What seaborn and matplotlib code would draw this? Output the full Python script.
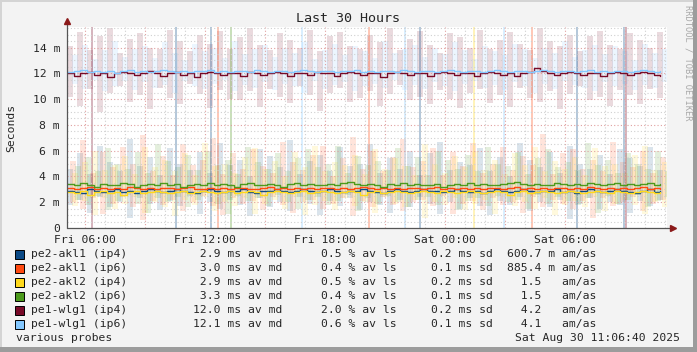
import numpy as np
import pandas as pd
import matplotlib
matplotlib.use("Agg")
import matplotlib.pyplot as plt
import seaborn as sns
from matplotlib.patches import Rectangle

# targets and their legend stats
names = ["pe2-akl1 (ip4)", "pe2-akl1 (ip6)", "pe2-akl2 (ip4)",
         "pe2-akl2 (ip6)", "pe1-wlg1 (ip4)", "pe1-wlg1 (ip6)"]
colors = ["#0b4a86", "#ff4a12", "#ffd91c", "#4c9a1c", "#780a28", "#84c8ff"]
med_avg = [2.9, 3.0, 2.9, 3.3, 12.0, 12.1]
loss_avg = [0.5, 0.4, 0.5, 0.4, 2.0, 0.6]
sd_val = [0.2, 0.1, 0.2, 0.1, 0.2, 0.1]
amas_val = [600.7, 885.4, 1.5, 1.5, 4.2, 4.1]
amas_pre = ["m", "m", "", "", "", ""]

x_labels = ["Fri 06:00", "Fri 12:00", "Fri 18:00", "Sat 00:00", "Sat 06:00"]
stamp = "Sat Aug 30 11:06:40 2025"

# median rtt (ms), one value every 20 minutes from Fri 05:06:40
med_akl1_ip4 = [2.9,2.8,2.7,3.0,2.9,2.8,2.9,3.0,2.8,2.9,2.7,2.9,3.0,2.9,2.8,2.9,3.0,2.9,2.8,2.7,
                2.9,3.0,2.9,2.8,2.9,2.9,3.0,2.8,2.7,2.9,2.9,3.0,2.9,2.8,2.9,3.0,2.9,2.8,2.9,3.0,
                2.9,2.8,2.9,2.9,3.0,2.9,2.8,2.7,2.9,3.0,2.9,2.8,2.9,3.0,2.9,2.9,2.8,2.9,3.0,2.9,
                2.8,2.9,2.7,2.9,3.0,2.9,2.8,2.9,3.0,2.9,2.8,2.9,2.9,3.0,2.8,2.9,2.7,2.9,3.0,2.9,
                2.8,2.9,3.0,2.9,2.8,2.7,2.9,3.0,2.8,2.9]
med_akl1_ip6 = [3.1,3.0,3.1,3.2,3.0,3.1,3.0,3.1,3.0,3.2,3.1,3.0,3.1,3.0,3.1,3.1,3.0,3.1,3.2,3.0,
                3.0,3.1,3.0,3.1,3.0,3.1,3.1,3.0,3.0,3.1,3.2,3.0,3.1,3.0,3.1,3.0,3.1,3.0,3.1,3.1,
                3.0,3.1,3.0,3.1,3.2,3.1,3.0,3.1,3.0,3.1,3.0,3.1,3.1,3.0,3.1,3.2,3.0,3.1,3.0,3.1,
                3.0,3.1,3.0,3.1,3.1,3.0,3.1,3.2,3.0,3.1,3.0,3.1,3.0,3.1,3.1,3.0,3.1,3.0,3.2,3.1,
                3.0,3.1,3.0,3.1,3.0,3.1,3.2,3.0,3.1,3.0]
med_akl2_ip4 = [2.8,2.7,2.9,2.6,2.8,2.9,2.7,2.8,2.6,2.8,2.9,2.7,2.8,2.9,2.8,2.7,2.8,2.9,2.7,2.8,
                2.9,2.8,2.7,2.8,2.9,2.7,2.8,2.9,2.8,2.6,2.8,2.9,2.8,2.7,2.8,2.9,2.7,2.8,2.9,2.8,
                2.7,2.8,2.9,2.8,2.6,2.8,2.9,2.7,2.8,2.9,2.8,2.7,2.8,2.9,2.8,2.7,2.9,2.8,2.7,2.8,
                2.9,2.8,2.7,2.8,2.9,2.8,2.6,2.8,2.9,2.7,2.8,2.9,2.8,2.7,2.8,2.9,2.8,2.7,2.8,2.9,
                2.8,2.7,2.9,2.8,2.7,2.8,2.9,2.8,2.7,2.8]
med_akl2_ip6 = [3.4,3.3,3.5,3.3,3.2,3.4,3.3,3.3,3.5,3.4,3.2,3.3,3.4,3.3,3.5,3.3,3.4,3.2,3.3,3.4,
                3.3,3.5,3.3,3.4,3.3,3.2,3.4,3.5,3.3,3.3,3.4,3.3,3.2,3.4,3.5,3.3,3.4,3.3,3.3,3.4,
                3.3,3.5,3.6,3.4,3.3,3.4,3.3,3.2,3.4,3.3,3.5,3.3,3.4,3.3,3.3,3.4,3.2,3.3,3.4,3.3,
                3.5,3.3,3.4,3.3,3.3,3.4,3.5,3.6,3.4,3.3,3.4,3.3,3.3,3.5,3.4,3.3,3.4,3.3,3.5,3.4,
                3.3,3.4,3.5,3.3,3.4,3.3,3.4,3.5,3.3,3.4]
med_wlg1_ip4 = [12.0,11.8,12.0,12.1,11.9,12.0,11.7,12.0,12.1,12.0,11.9,12.0,12.2,12.0,11.8,12.0,12.1,11.9,12.0,11.7,
                12.0,12.1,12.0,11.9,12.0,12.0,11.8,12.1,12.0,11.9,12.0,12.1,12.0,11.8,12.0,12.0,11.9,12.1,12.0,12.0,
                11.8,12.0,12.1,12.0,11.9,12.0,12.0,11.7,12.0,12.1,12.0,11.9,12.0,12.0,11.8,12.0,12.1,12.0,11.9,12.0,
                12.0,11.8,12.0,12.1,12.0,11.9,12.0,11.8,12.0,12.1,12.4,12.2,12.0,11.9,12.0,12.1,12.0,11.9,12.0,12.0,
                11.8,12.0,12.1,12.0,11.9,12.0,12.1,12.0,11.9,11.8]
med_wlg1_ip6 = [12.1,12.2,12.3,12.1,12.2,12.1,12.2,12.0,12.2,12.3,12.1,12.2,12.1,12.2,12.3,12.2,12.1,12.2,12.1,12.2,
                12.2,12.3,12.1,12.2,12.1,12.2,12.2,12.1,12.3,12.2,12.1,12.2,12.2,12.1,12.2,12.3,12.2,12.1,12.2,12.2,
                12.1,12.2,12.2,12.3,12.1,12.2,12.1,12.2,12.2,12.1,12.3,12.2,12.1,12.2,12.2,12.1,12.2,12.3,12.2,12.1,
                12.2,12.2,12.1,12.2,12.3,12.2,12.1,12.2,12.2,12.1,12.2,12.3,12.2,12.1,12.2,12.2,12.1,12.2,12.3,12.1,
                12.2,12.1,12.2,12.2,12.1,12.2,12.3,12.2,12.1,12.2]

# smoke (min / max rtt, ms), one value every 30 minutes
lo_akl1_ip4 = [1.8,2.2,1.2,2.4,1.6,2.0,0.8,2.3,1.9,1.4,2.1,1.7,2.5,1.1,2.0,1.5,2.2,1.8,0.9,2.3,
               1.6,2.0,1.3,2.4,1.9,1.0,2.1,1.7,2.3,1.4,2.0,1.8,1.2,2.2,1.6,2.4,1.9,1.1,2.0,1.5,
               2.3,1.7,1.0,2.1,1.8,2.4,1.3,2.0,1.6,2.2,0.7,1.9,2.3,1.5,2.0,1.8,1.2,2.1,1.7,2.2]
hi_akl1_ip4 = [4.6,5.8,4.2,6.4,5.1,4.4,6.9,4.8,5.5,4.1,6.2,5.0,4.5,5.9,4.3,6.6,4.9,5.3,4.0,6.1,
               5.6,4.7,6.8,4.2,5.2,5.7,4.4,6.3,4.8,5.0,6.5,4.3,5.4,4.6,6.0,4.1,5.8,6.7,4.5,5.1,
               4.9,6.2,4.4,5.5,4.0,6.6,5.3,4.7,5.9,4.3,6.4,5.0,4.6,5.7,4.2,6.1,5.4,4.8,6.3,4.5]
lo_akl1_ip6 = [2.0,1.5,2.3,1.1,1.9,2.4,1.6,0.6,2.1,1.8,2.2,1.3,2.0,2.5,1.7,1.0,2.3,1.9,2.1,1.4,
               2.4,1.8,1.2,2.0,2.2,1.5,1.9,2.3,0.9,2.1,1.6,2.4,1.8,1.3,2.0,2.2,1.7,2.5,1.1,1.9,
               2.1,1.4,2.3,1.8,2.0,1.2,2.4,1.6,2.2,1.9,1.5,2.1,0.8,2.3,1.7,2.0,2.4,1.3,1.9,2.2]
hi_akl1_ip6 = [5.2,6.8,4.3,5.9,4.7,6.3,5.0,7.2,4.4,5.6,4.1,6.5,4.9,5.3,7.0,4.2,5.8,4.6,6.1,4.8,
               4.3,6.7,5.1,4.5,5.7,6.4,4.0,5.4,7.1,4.6,6.0,4.4,5.5,6.9,4.7,5.2,6.2,4.1,5.9,4.8,
               6.6,4.3,5.0,6.3,4.5,5.6,4.9,7.3,4.2,5.8,6.1,4.6,5.3,4.4,6.7,5.1,4.7,6.0,4.3,5.5]
lo_akl2_ip4 = [1.7,2.1,1.0,2.3,1.5,1.9,2.4,1.2,2.0,1.6,0.9,2.2,1.8,2.4,1.3,2.0,1.7,2.3,1.1,1.9,
               2.2,1.5,2.4,1.0,1.8,2.1,1.4,2.3,1.7,2.0,1.2,2.4,1.9,1.6,2.2,0.8,2.0,1.8,2.3,1.4,
               1.9,2.2,1.1,2.4,1.7,2.0,1.5,2.3,1.0,1.8,2.1,1.6,2.4,1.3,1.9,2.2,1.8,1.1,2.0,1.6]
hi_akl2_ip4 = [4.3,5.1,6.0,4.5,4.9,5.6,4.2,6.3,4.7,5.3,4.4,5.8,4.1,6.6,4.8,5.0,4.3,5.5,6.2,4.6,
               5.2,4.0,5.9,4.7,6.4,4.4,5.1,4.9,5.7,4.2,6.1,4.6,5.4,4.8,4.1,6.5,5.0,4.3,5.6,4.7,
               6.0,4.5,5.3,4.2,5.8,4.9,6.3,4.4,5.2,4.6,5.5,4.1,6.2,4.8,5.0,4.3,5.7,6.4,4.5,5.1]
lo_akl2_ip6 = [2.2,1.8,2.5,1.4,2.1,2.6,1.9,1.2,2.3,2.0,2.4,1.6,2.2,2.7,1.9,1.1,2.5,2.1,2.3,1.7,
               2.6,2.0,1.5,2.2,2.4,1.8,2.1,2.6,1.3,2.3,1.9,2.5,2.0,1.6,2.2,2.4,1.8,2.7,1.4,2.1,
               2.3,1.7,2.5,2.0,2.2,1.5,2.6,1.9,2.4,2.1,1.8,2.3,1.2,2.5,1.9,2.2,2.6,1.6,2.1,2.4]
hi_akl2_ip6 = [4.8,5.5,4.4,6.2,5.0,4.6,5.9,4.3,6.5,5.2,4.7,5.7,4.5,6.0,4.9,5.3,4.2,6.3,5.1,4.6,
               5.8,4.4,5.4,6.1,4.7,5.0,6.4,4.3,5.6,4.9,5.2,4.5,6.2,4.8,5.5,4.1,6.0,5.3,4.6,5.7,
               4.4,6.3,5.0,4.8,5.9,4.2,5.4,6.1,4.7,5.1,4.5,6.6,4.9,5.3,4.3,5.8,5.0,4.6,6.0,4.4]
lo_wlg1_ip4 = [10.2,9.5,10.8,9.0,10.5,11.0,9.8,10.3,9.2,10.9,10.1,9.6,11.2,10.4,9.3,10.7,10.0,9.9,10.6,9.4,
               10.8,10.2,9.7,11.0,10.3,9.1,10.5,10.9,9.8,10.1,10.6,9.5,10.4,11.1,9.9,10.2,9.6,10.7,10.0,9.3,
               10.5,10.8,9.7,10.3,9.4,10.9,10.1,9.8,10.6,9.2,10.4,11.0,9.9,10.2,9.5,10.7,10.3,9.6,10.8,10.1]
hi_wlg1_ip4 = [14.1,15.2,13.8,14.9,15.5,13.6,14.7,15.1,14.0,13.9,15.4,14.5,13.7,15.0,14.3,15.3,13.9,14.8,15.5,14.2,
               13.8,15.1,14.6,14.0,15.4,13.7,14.9,15.2,14.1,13.9,15.0,14.4,15.5,13.8,14.7,15.3,14.2,13.6,15.1,14.8,
               14.0,15.4,13.9,14.6,15.2,14.3,13.8,15.5,14.5,14.1,15.0,13.7,14.9,15.3,14.2,13.9,15.1,14.6,14.0,15.2]
lo_wlg1_ip6 = [11.2,10.8,11.5,10.6,11.0,11.4,10.7,11.3,10.9,11.1,10.5,11.4,11.0,10.8,11.2,11.5,10.6,11.1,10.9,11.3,
               10.7,11.2,11.0,10.5,11.4,10.8,11.1,11.3,10.6,11.0,11.2,10.9,11.5,10.7,11.1,10.8,11.3,11.0,10.6,11.2,
               11.4,10.9,11.1,10.7,11.3,11.0,10.5,11.2,10.8,11.4,11.1,10.9,10.6,11.3,11.0,11.2,10.7,11.1,10.9,11.3]
hi_wlg1_ip6 = [13.4,14.2,13.1,13.8,14.5,13.3,13.9,14.1,13.2,14.4,13.6,13.0,14.3,13.7,14.0,13.2,14.5,13.5,13.9,14.2,
               13.3,14.0,13.6,14.4,13.1,13.8,14.3,13.4,14.1,13.7,13.2,14.5,13.6,13.9,14.2,13.3,14.0,13.5,14.4,13.8,
               13.1,14.1,13.7,13.4,14.3,13.9,13.2,14.0,13.6,14.5,13.3,13.8,14.2,13.5,14.1,13.7,13.0,14.3,13.6,13.9]

# full height loss/timeout columns: hours after start, which target
spike_hours = [1.25, 5.45, 7.2, 7.55, 8.2, 11.75, 15.1, 16.9, 17.65, 20.35, 21.85, 23.25, 25.5, 27.85, 27.95]
spike_target = [4, 0, 0, 1, 3, 5, 1, 5, 0, 2, 5, 1, 0, 0, 4]

medians = [med_akl1_ip4, med_akl1_ip6, med_akl2_ip4, med_akl2_ip6, med_wlg1_ip4, med_wlg1_ip6]
smoke_lo = [lo_akl1_ip4, lo_akl1_ip6, lo_akl2_ip4, lo_akl2_ip6, lo_wlg1_ip4, lo_wlg1_ip6]
smoke_hi = [hi_akl1_ip4, hi_akl1_ip6, hi_akl2_ip4, hi_akl2_ip6, hi_wlg1_ip4, hi_wlg1_ip6]

start_clock = 5 + 6 / 60 + 40 / 3600   # Fri 05:06:40
span = 30
ytop = 15.6

sns.set_style("white")
plt.rcParams["font.family"] = ["DejaVu Sans Mono"]
fs = 8.2

W, H = 697, 352
fig = plt.figure(figsize=(W / 100, H / 100), dpi=100, facecolor="#f3f3f3")
ax = fig.add_axes([67 / W, 1 - 228 / H, 600 / W, 201 / H])
ax.set_facecolor("white")

# smoke, stripes so the targets interleave
shift = [0.0, 0.125, 0.25, 0.375, 0.0, 0.25]
for i in range(6):
    t = np.arange(len(smoke_lo[i])) * 0.5 + shift[i]
    lo = np.array(smoke_lo[i])
    hi = np.array(smoke_hi[i])
    ax.bar(t, hi - lo, bottom=lo, width=0.3, align="edge", color=colors[i],
           alpha=0.15, linewidth=0, zorder=1)

for h, k in zip(spike_hours, spike_target):
    ax.bar(h, ytop, bottom=0, width=0.12, color=colors[k], alpha=0.3, linewidth=0, zorder=1.2)

# grid
for ch in range(6, 36):
    pos = ch - start_clock
    if pos > span:
        break
    major = ch % 3 == 0
    ax.axvline(pos, color="#e0a0a0" if major else "#d0d0d0", lw=0.8,
               ls=(0, (1, 2)), zorder=2)
for v in np.arange(0.5, ytop, 0.5):
    major = v % 2 == 0
    ax.axhline(v, color="#e0a0a0" if major else "#d0d0d0", lw=0.8,
               ls=(0, (1, 2)), zorder=2)

# median lines
frames = []
for n, m in zip(names, medians):
    frames.append(pd.DataFrame({"hour": np.arange(len(m)) / 3, "ms": m, "target": n}))
df = pd.concat(frames, ignore_index=True)
sns.lineplot(data=df, x="hour", y="ms", hue="target", hue_order=names,
             palette=dict(zip(names, colors)), drawstyle="steps-post",
             estimator=None, linewidth=1.0, legend=False, ax=ax, zorder=4)

ax.set_xlim(0, span)
ax.set_ylim(0, ytop)
for s in ax.spines.values():
    s.set_visible(False)

ax.set_xticks([c - start_clock for c in (6, 12, 18, 24, 30)])
ax.set_xticklabels(x_labels)
ax.set_yticks(range(0, 16, 2))
ax.set_yticklabels(["0"] + [f"{v} m" for v in range(2, 16, 2)])
ax.tick_params(axis="both", labelsize=fs, length=2, width=0.8, color="#999999", pad=3)
ax.set_xlabel("")
ax.set_ylabel("")

# axis lines with arrows
ax.plot([0, 1.012], [0, 0], color="#555555", lw=0.9, transform=ax.transAxes, clip_on=False, zorder=5)
ax.plot([0, 0], [0, 1.025], color="#555555", lw=0.9, transform=ax.transAxes, clip_on=False, zorder=5)
ax.plot([1.01], [0], marker=">", ms=5, color="#8b1a1a", transform=ax.transAxes, clip_on=False, zorder=6)
ax.plot([0], [1.03], marker="^", ms=5, color="#8b1a1a", transform=ax.transAxes, clip_on=False, zorder=6)

# texts
fig.text(348 / W, 1 - 19 / H, "Last 30 Hours", ha="center", va="center", fontsize=9.6)
fig.text(11 / W, 1 - 127.5 / H, "Seconds", ha="center", va="center", rotation=90, fontsize=fs)
fig.text(688 / W, 1 - 5 / H, "RRDTOOL / TOBI OETIKER", ha="center", va="top",
         rotation=270, fontsize=6.3, color="#a8a8a8")

for i in range(6):
    y = 1 - (254.3 + 14 * i) / H
    fig.patches.append(Rectangle((15 / W, y - 4.5 / H), 9 / W, 9 / H, transform=fig.transFigure,
                                 facecolor=colors[i], edgecolor="black", lw=0.7))
    fig.text(30.7 / W, y, names[i], va="center", fontsize=fs)
    fig.text(193.3 / W, y, f"{med_avg[i]:4.1f} ms av md", va="center", fontsize=fs)
    fig.text(321 / W, y, f"{loss_avg[i]:3.1f} % av ls", va="center", fontsize=fs)
    fig.text(431 / W, y, f"{sd_val[i]:3.1f} ms sd", va="center", fontsize=fs)
    fig.text(506.7 / W, y, f"{amas_val[i]:5.1f} {amas_pre[i]:1s} am/as", va="center", fontsize=fs)

fig.text(16 / W, 1 - 338.3 / H, "various probes", va="center", fontsize=fs)
fig.text(680 / W, 1 - 338.3 / H, stamp, ha="right", va="center", fontsize=fs)

# frame around the image
fig.patches.append(Rectangle((0, 0), 2 / W, 1, transform=fig.transFigure, facecolor="#d4d4d4", lw=0))
fig.patches.append(Rectangle((0, 1 - 2 / H), 1, 2 / H, transform=fig.transFigure, facecolor="#d4d4d4", lw=0))
fig.patches.append(Rectangle((1 - 4 / W, 0), 4 / W, 1, transform=fig.transFigure, facecolor="#9c9c9c", lw=0))
fig.patches.append(Rectangle((0, 0), 1, 5 / H, transform=fig.transFigure, facecolor="#9c9c9c", lw=0))

fig.savefig("out.png", dpi=100, facecolor=fig.get_facecolor())
